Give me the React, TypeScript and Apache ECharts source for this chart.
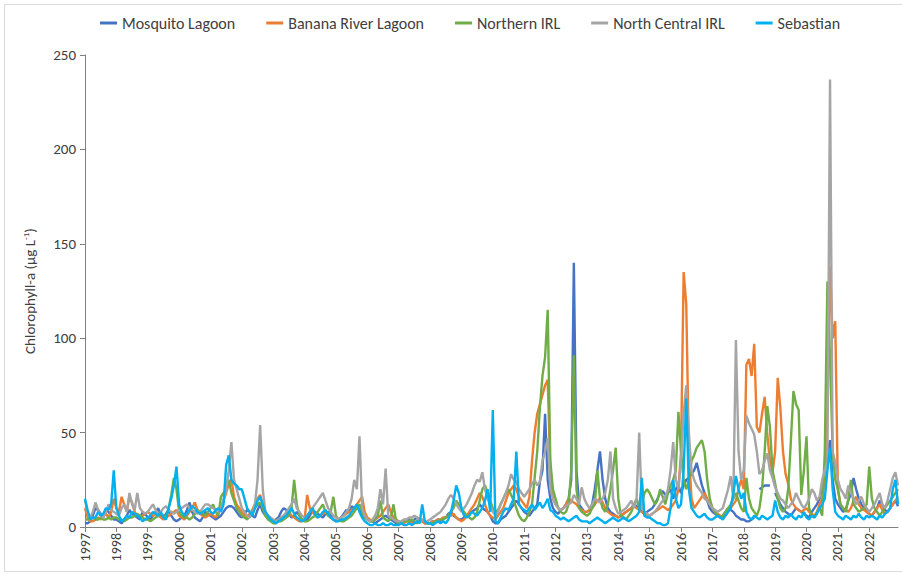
import React, { useEffect, useRef } from "react";
import * as echarts from "echarts";

const YEARS = [1997,1998,1999,2000,2001,2002,2003,2004,2005,2006,2007,2008,2009,2010,2011,2012,2013,2014,2015,2016,2017,2018,2019,2020,2021,2022];
const MONTHS = ["01","02","03","04","05","06","07","08","09","10","11","12"];
const SERIES_NAMES = ["Mosquito Lagoon","Banana River Lagoon","Northern IRL","North Central IRL","Sebastian"];
const SERIES_COLORS = ["#4472C4","#ED7D31","#70AD47","#A5A5A5","#00B0F0"];
const Y_TICKS = [0,50,100,150,200,250];

// monthly values, one row per year (Jan..Dec)
const mosquitoLagoon = [
  2,2,3,6,10,9,7,5,9,8,6,4,
  4,3,2,4,6,9,7,6,5,4,8,7,
  5,4,6,8,10,6,5,7,9,6,4,3,
  4,5,6,9,13,8,5,4,3,5,8,7,
  6,5,4,5,6,8,10,11,11,10,8,6,
  5,7,9,8,6,5,9,12,8,6,5,4,
  3,4,5,8,10,9,7,5,6,8,6,4,
  3,4,6,9,8,7,6,5,7,8,6,4,
  3,4,5,7,9,8,11,10,11,9,6,5,
  4,3,3,2,3,4,5,6,5,4,3,2,
  2,2,3,3,4,3,4,5,4,3,2,2,
  2,3,3,4,3,4,5,7,8,6,5,4,
  4,5,6,7,8,9,10,12,10,9,8,6,
  3,2,2,4,5,6,8,10,12,14,12,10,
  8,7,6,8,10,12,24,30,60,25,15,10,
  8,7,9,10,12,15,25,140,30,12,10,8,
  8,9,12,20,30,40,25,15,10,8,7,6,
  5,6,7,8,9,10,12,11,10,8,7,8,
  9,10,12,15,18,19,17,18,20,15,20,22,
  18,22,25,26,28,30,34,28,22,18,14,10,
  8,7,6,5,6,8,10,9,8,6,5,4,
  4,3,3,4,5,null,20,21,22,22,22,null,
  18,15,12,10,8,7,6,8,10,9,8,7,
  6,5,8,10,12,15,20,30,40,46,25,15,
  12,10,8,9,14,18,26,20,15,12,10,8,
  7,6,8,10,14,12,9,8,10,12,14,11,
];

const bananaRiver = [
  10,5,3,3,4,5,4,6,7,5,8,15,
  10,8,16,12,8,16,13,8,6,5,6,7,
  8,7,6,7,6,5,4,5,6,7,8,9,
  6,5,4,6,8,10,13,9,7,6,5,6,
  7,6,5,8,10,14,18,23,25,16,12,10,
  8,6,5,7,9,12,15,17,12,8,6,4,
  3,3,4,5,6,7,8,6,5,4,3,3,
  4,17,10,8,6,5,6,7,8,6,5,4,
  3,4,5,6,7,8,9,10,12,14,16,8,
  5,4,3,4,5,6,8,10,12,8,5,4,
  3,2,2,3,3,2,2,3,4,3,2,2,
  2,3,3,4,4,5,5,6,6,7,5,4,
  3,4,6,8,10,12,15,18,16,12,8,6,
  5,4,6,8,10,14,18,20,22,20,16,14,
  12,10,16,35,50,60,65,70,75,78,30,15,
  12,10,9,10,12,15,14,13,12,10,9,8,
  8,9,10,12,14,15,13,10,8,7,6,6,
  5,6,7,8,9,10,11,10,9,8,7,6,
  6,7,8,9,10,11,10,9,10,12,14,20,
  40,135,118,40,15,10,12,14,16,18,15,12,
  10,8,7,6,5,6,8,10,12,14,20,25,
  20,86,89,80,97,53,50,60,69,49,35,29,
  40,79,63,40,28,23,15,12,10,9,8,9,
  10,8,7,6,8,12,15,25,60,138,100,109,
  20,12,10,9,8,10,14,16,12,10,9,8,
  7,6,8,10,12,9,7,8,10,12,14,16,
];

const northernIRL = [
  4,4,5,5,4,4,5,4,4,5,4,5,
  5,4,4,3,4,5,5,6,7,6,5,4,
  4,3,4,5,6,7,6,5,10,17,26,20,
  8,6,5,5,4,5,7,9,8,7,6,8,
  10,12,8,6,16,18,20,25,18,14,10,8,
  6,5,4,6,8,10,12,13,10,6,4,3,
  2,2,3,3,4,5,6,10,25,12,6,4,
  3,3,4,5,6,8,10,12,8,6,8,16,
  6,4,3,3,4,5,6,8,10,12,8,5,
  4,3,3,4,6,14,5,4,3,5,12,3,
  2,2,3,3,3,4,3,2,3,4,3,2,
  2,2,3,3,4,4,5,6,8,10,14,12,
  10,8,6,5,4,5,8,14,20,22,18,14,
  10,8,9,12,15,18,20,17,14,10,6,4,
  3,5,8,12,26,40,63,80,90,115,35,20,
  15,10,8,7,8,12,30,91,20,10,8,7,
  6,7,10,12,30,15,10,8,12,20,30,42,
  15,6,5,4,6,8,12,15,10,12,18,20,
  18,15,12,14,20,16,12,18,22,25,30,61,
  40,25,20,25,35,38,42,44,46,40,25,15,
  10,8,6,5,6,8,10,12,15,18,14,10,
  8,26,15,10,8,6,10,20,40,64,53,30,
  23,15,10,8,10,20,45,72,65,62,17,30,
  48,10,6,5,8,10,6,40,130,90,40,25,
  20,12,10,8,15,25,12,10,8,9,10,12,
  32,15,10,8,6,8,10,12,14,16,18,20,
];

const northCentralIRL = [
  14,8,5,8,13,9,6,5,8,12,9,8,
  7,6,10,12,8,18,12,9,18,10,8,7,
  8,10,12,9,7,8,10,11,9,8,7,8,
  9,10,11,12,10,9,8,7,8,10,12,12,
  11,10,9,8,10,14,20,30,45,25,20,15,
  10,8,6,5,7,12,25,54,20,8,6,5,
  4,3,4,5,6,8,10,12,15,10,8,6,
  5,6,8,10,12,14,16,18,14,10,8,6,
  5,4,5,6,8,10,15,25,20,48,10,6,
  4,3,4,6,10,20,12,31,6,5,4,3,
  3,3,4,4,5,5,6,5,4,4,3,3,
  4,5,6,7,8,10,12,15,17,15,12,10,
  8,10,12,15,18,22,25,24,29,20,15,12,
  8,6,8,12,15,18,22,28,25,24,20,18,
  16,18,20,23,25,22,24,35,40,47,20,15,
  12,10,9,10,11,12,13,17,15,12,21,15,
  12,10,12,15,14,13,15,18,25,40,15,10,
  7,8,9,10,12,14,10,15,50,10,8,7,
  6,7,8,10,12,14,16,20,30,45,25,20,
  35,60,75,50,30,25,22,20,18,15,14,12,
  10,9,8,9,10,15,20,27,15,99,40,25,
  30,59,55,52,49,40,28,30,35,39,30,26,
  21,18,15,14,12,10,12,14,18,15,12,10,
  12,15,20,18,14,16,25,30,35,237,40,34,
  25,20,18,15,22,18,15,12,14,16,12,10,
  8,10,12,15,18,12,10,14,20,26,29,22,
];

const sebastian = [
  15,9,4,5,5,8,6,7,10,9,12,30,
  10,6,3,4,6,5,8,7,6,5,3,4,
  5,6,8,7,6,8,5,4,10,15,22,32,
  12,8,6,7,9,11,10,8,7,8,9,10,
  8,7,9,10,8,12,33,38,25,23,22,20,
  20,15,10,8,6,10,14,16,12,8,6,4,
  3,2,3,4,5,6,8,10,7,5,4,3,
  4,6,8,10,7,5,6,8,9,7,5,4,
  3,3,4,4,5,6,8,10,12,8,5,3,
  2,1,1,2,1,1,2,1,1,2,1,1,
  1,2,1,1,2,1,2,3,2,12,3,2,
  2,1,2,3,2,3,2,4,8,14,22,18,
  10,6,5,6,8,7,6,8,10,14,20,8,
  62,3,2,5,8,10,9,12,15,40,12,10,
  9,8,10,12,9,11,13,10,12,15,9,8,
  6,5,4,5,4,3,4,5,6,4,3,3,
  3,2,3,4,5,4,3,2,3,4,5,4,
  3,4,5,4,3,4,5,6,8,26,6,5,
  5,4,3,2,2,1,1,2,10,25,15,10,
  12,30,68,20,10,8,6,5,6,7,5,4,
  4,5,6,5,4,6,8,10,18,27,20,15,
  18,8,5,4,6,5,4,6,5,4,5,6,
  14,8,5,4,6,5,7,5,4,6,5,8,
  5,4,6,5,7,10,12,15,30,42,20,8,
  6,5,4,6,5,4,6,5,7,5,4,6,
  5,6,5,4,6,5,7,8,10,20,25,12,
];

const SERIES_DATA = [mosquitoLagoon, bananaRiver, northernIRL, northCentralIRL, sebastian];

const FONT = "Carlito, Lato, 'Liberation Sans', sans-serif";

export default function App() {
  const ref = useRef<HTMLDivElement>(null);
  useEffect(() => {
    if (!ref.current) return;
    const chart = echarts.init(ref.current, undefined, { renderer: "svg" });
    const categories: string[] = [];
    YEARS.forEach((y) => MONTHS.forEach((m) => categories.push(`${y}-${m}`)));
    chart.setOption({
      animation: false,
      backgroundColor: "#ffffff",
      textStyle: { fontFamily: FONT },
      graphic: [
        {
          type: "rect",
          shape: { x: 4.5, y: 4.5, width: 910, height: 567 },
          style: { fill: "none", stroke: "#d9d9d9", lineWidth: 1 },
          silent: true,
        },
      ],
      legend: {
        top: 10,
        left: 95,
        icon: "rect",
        itemWidth: 17,
        itemHeight: 3,
        itemGap: 31,
        textStyle: { fontSize: 16, color: "#404040", fontFamily: FONT },
        data: SERIES_NAMES,
      },
      grid: { left: 85, right: 4, top: 55, bottom: 48, containLabel: false },
      xAxis: {
        type: "category",
        boundaryGap: false,
        data: categories,
        axisLine: { lineStyle: { color: "#808080", width: 1 } },
        axisTick: { show: true, interval: 11, length: 5, lineStyle: { color: "#808080" } },
        axisLabel: {
          interval: 11,
          rotate: 90,
          margin: 6,
          fontSize: 14,
          color: "#404040",
          fontFamily: FONT,
          formatter: (v: string) => v.slice(0, 4),
        },
        splitLine: { show: false },
      },
      yAxis: {
        type: "value",
        min: Y_TICKS[0],
        max: Y_TICKS[Y_TICKS.length - 1],
        interval: 50,
        name: "Chlorophyll-a (μg L{sup|-1})",
        nameLocation: "middle",
        nameGap: 47,
        nameTextStyle: {
          fontSize: 15,
          color: "#404040",
          fontFamily: FONT,
          rich: { sup: { fontSize: 9, color: "#404040", padding: [0, 0, 8, 0], fontFamily: FONT } },
        },
        axisLine: { show: true, lineStyle: { color: "#808080", width: 1 } },
        axisTick: { show: true, length: 5, lineStyle: { color: "#808080" } },
        axisLabel: { fontSize: 15, color: "#404040", margin: 9, fontFamily: FONT },
        splitLine: { show: false },
      },
      series: SERIES_NAMES.map((name, i) => ({
        name,
        type: "line",
        data: SERIES_DATA[i],
        showSymbol: false,
        symbol: "none",
        connectNulls: false,
        lineStyle: { width: 2.4, color: SERIES_COLORS[i] },
        itemStyle: { color: SERIES_COLORS[i] },
      })),
    });
    return () => chart.dispose();
  }, []);
  return (
    <div
      ref={ref}
      style={{ position: "fixed", left: 0, top: 0, width: 902, height: 575 }}
    />
  );
}
